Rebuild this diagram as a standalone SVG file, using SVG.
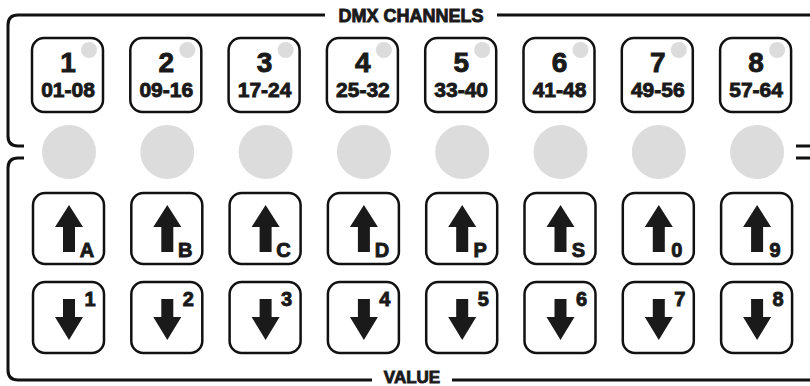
<svg xmlns="http://www.w3.org/2000/svg" width="810" height="386" viewBox="0 0 810 386">
<style>
.frame{fill:none;stroke:#111;stroke-width:3}
.btn{fill:#fff;stroke:#111;stroke-width:2.5}
.led{fill:#dcdcdc}
.t{font-family:"Liberation Sans",Arial,sans-serif;font-weight:bold;fill:#1a1a1a;stroke:#1a1a1a;stroke-width:0.9;text-anchor:middle}
.num{font-size:28px}
.rng{font-size:21px}
.lbl{font-size:18px}
.val{font-size:17px}
.key{font-size:20px}
.arr{fill:#1a1a1a}
</style>
<defs>
<path id="up" d="M0 -47 L14 -25 L6 -25 L6 0 L-6 0 L-6 -25 L-14 -25 Z"/>
<path id="dn" d="M-6 -53 L6 -53 L6 -35 L14 -35 L0 -12 L-14 -35 L-6 -35 Z"/>
</defs>
<g id="frame">
<path class="frame" d="M24 146 H18 Q8 146 8 136 V25 Q8 15 18 15 H325 M497 15 H810"/>
<path class="frame" d="M24 158 H18 Q8 158 8 168 V370 Q8 380 18 380 H372 M452 380 H810"/>
<path class="frame" d="M796 146 H810 M796 158 H810"/>
<text class="t lbl" x="411" y="22">DMX CHANNELS</text>
<text class="t val" x="412" y="383">VALUE</text>
</g>
<g id="col1" transform="translate(68,0)">
<rect class="btn" x="-36" y="38" width="71" height="74" rx="12"/><circle class="led" cx="21" cy="50" r="8"/>
<text class="t num" x="0" y="72">1</text><text class="t rng" x="0" y="97">01-08</text>
<circle class="led" cx="1" cy="152" r="27"/>
<rect class="btn" x="-35" y="193" width="71" height="71" rx="12"/><use href="#up" class="arr" x="1" y="252"/><text class="t key" x="19" y="257">A</text>
<rect class="btn" x="-35" y="282" width="71" height="71" rx="12"/><use href="#dn" class="arr" x="1" y="352"/><text class="t key" x="22" y="306">1</text>
</g>
<g id="col2" transform="translate(166.3,0)">
<rect class="btn" x="-36" y="38" width="71" height="74" rx="12"/><circle class="led" cx="21" cy="50" r="8"/>
<text class="t num" x="0" y="72">2</text><text class="t rng" x="0" y="97">09-16</text>
<circle class="led" cx="1" cy="152" r="27"/>
<rect class="btn" x="-35" y="193" width="71" height="71" rx="12"/><use href="#up" class="arr" x="1" y="252"/><text class="t key" x="19" y="257">B</text>
<rect class="btn" x="-35" y="282" width="71" height="71" rx="12"/><use href="#dn" class="arr" x="1" y="352"/><text class="t key" x="22" y="306">2</text>
</g>
<g id="col3" transform="translate(264.6,0)">
<rect class="btn" x="-36" y="38" width="71" height="74" rx="12"/><circle class="led" cx="21" cy="50" r="8"/>
<text class="t num" x="0" y="72">3</text><text class="t rng" x="0" y="97">17-24</text>
<circle class="led" cx="1" cy="152" r="27"/>
<rect class="btn" x="-35" y="193" width="71" height="71" rx="12"/><use href="#up" class="arr" x="1" y="252"/><text class="t key" x="19" y="257">C</text>
<rect class="btn" x="-35" y="282" width="71" height="71" rx="12"/><use href="#dn" class="arr" x="1" y="352"/><text class="t key" x="22" y="306">3</text>
</g>
<g id="col4" transform="translate(362.9,0)">
<rect class="btn" x="-36" y="38" width="71" height="74" rx="12"/><circle class="led" cx="21" cy="50" r="8"/>
<text class="t num" x="0" y="72">4</text><text class="t rng" x="0" y="97">25-32</text>
<circle class="led" cx="1" cy="152" r="27"/>
<rect class="btn" x="-35" y="193" width="71" height="71" rx="12"/><use href="#up" class="arr" x="1" y="252"/><text class="t key" x="19" y="257">D</text>
<rect class="btn" x="-35" y="282" width="71" height="71" rx="12"/><use href="#dn" class="arr" x="1" y="352"/><text class="t key" x="22" y="306">4</text>
</g>
<g id="col5" transform="translate(461.2,0)">
<rect class="btn" x="-36" y="38" width="71" height="74" rx="12"/><circle class="led" cx="21" cy="50" r="8"/>
<text class="t num" x="0" y="72">5</text><text class="t rng" x="0" y="97">33-40</text>
<circle class="led" cx="1" cy="152" r="27"/>
<rect class="btn" x="-35" y="193" width="71" height="71" rx="12"/><use href="#up" class="arr" x="1" y="252"/><text class="t key" x="19" y="257">P</text>
<rect class="btn" x="-35" y="282" width="71" height="71" rx="12"/><use href="#dn" class="arr" x="1" y="352"/><text class="t key" x="22" y="306">5</text>
</g>
<g id="col6" transform="translate(559.5,0)">
<rect class="btn" x="-36" y="38" width="71" height="74" rx="12"/><circle class="led" cx="21" cy="50" r="8"/>
<text class="t num" x="0" y="72">6</text><text class="t rng" x="0" y="97">41-48</text>
<circle class="led" cx="1" cy="152" r="27"/>
<rect class="btn" x="-35" y="193" width="71" height="71" rx="12"/><use href="#up" class="arr" x="1" y="252"/><text class="t key" x="19" y="257">S</text>
<rect class="btn" x="-35" y="282" width="71" height="71" rx="12"/><use href="#dn" class="arr" x="1" y="352"/><text class="t key" x="22" y="306">6</text>
</g>
<g id="col7" transform="translate(657.8,0)">
<rect class="btn" x="-36" y="38" width="71" height="74" rx="12"/><circle class="led" cx="21" cy="50" r="8"/>
<text class="t num" x="0" y="72">7</text><text class="t rng" x="0" y="97">49-56</text>
<circle class="led" cx="1" cy="152" r="27"/>
<rect class="btn" x="-35" y="193" width="71" height="71" rx="12"/><use href="#up" class="arr" x="1" y="252"/><text class="t key" x="19" y="257">0</text>
<rect class="btn" x="-35" y="282" width="71" height="71" rx="12"/><use href="#dn" class="arr" x="1" y="352"/><text class="t key" x="22" y="306">7</text>
</g>
<g id="col8" transform="translate(756.1,0)">
<rect class="btn" x="-36" y="38" width="71" height="74" rx="12"/><circle class="led" cx="21" cy="50" r="8"/>
<text class="t num" x="0" y="72">8</text><text class="t rng" x="0" y="97">57-64</text>
<circle class="led" cx="1" cy="152" r="27"/>
<rect class="btn" x="-35" y="193" width="71" height="71" rx="12"/><use href="#up" class="arr" x="1" y="252"/><text class="t key" x="19" y="257">9</text>
<rect class="btn" x="-35" y="282" width="71" height="71" rx="12"/><use href="#dn" class="arr" x="1" y="352"/><text class="t key" x="22" y="306">8</text>
</g>
</svg>
